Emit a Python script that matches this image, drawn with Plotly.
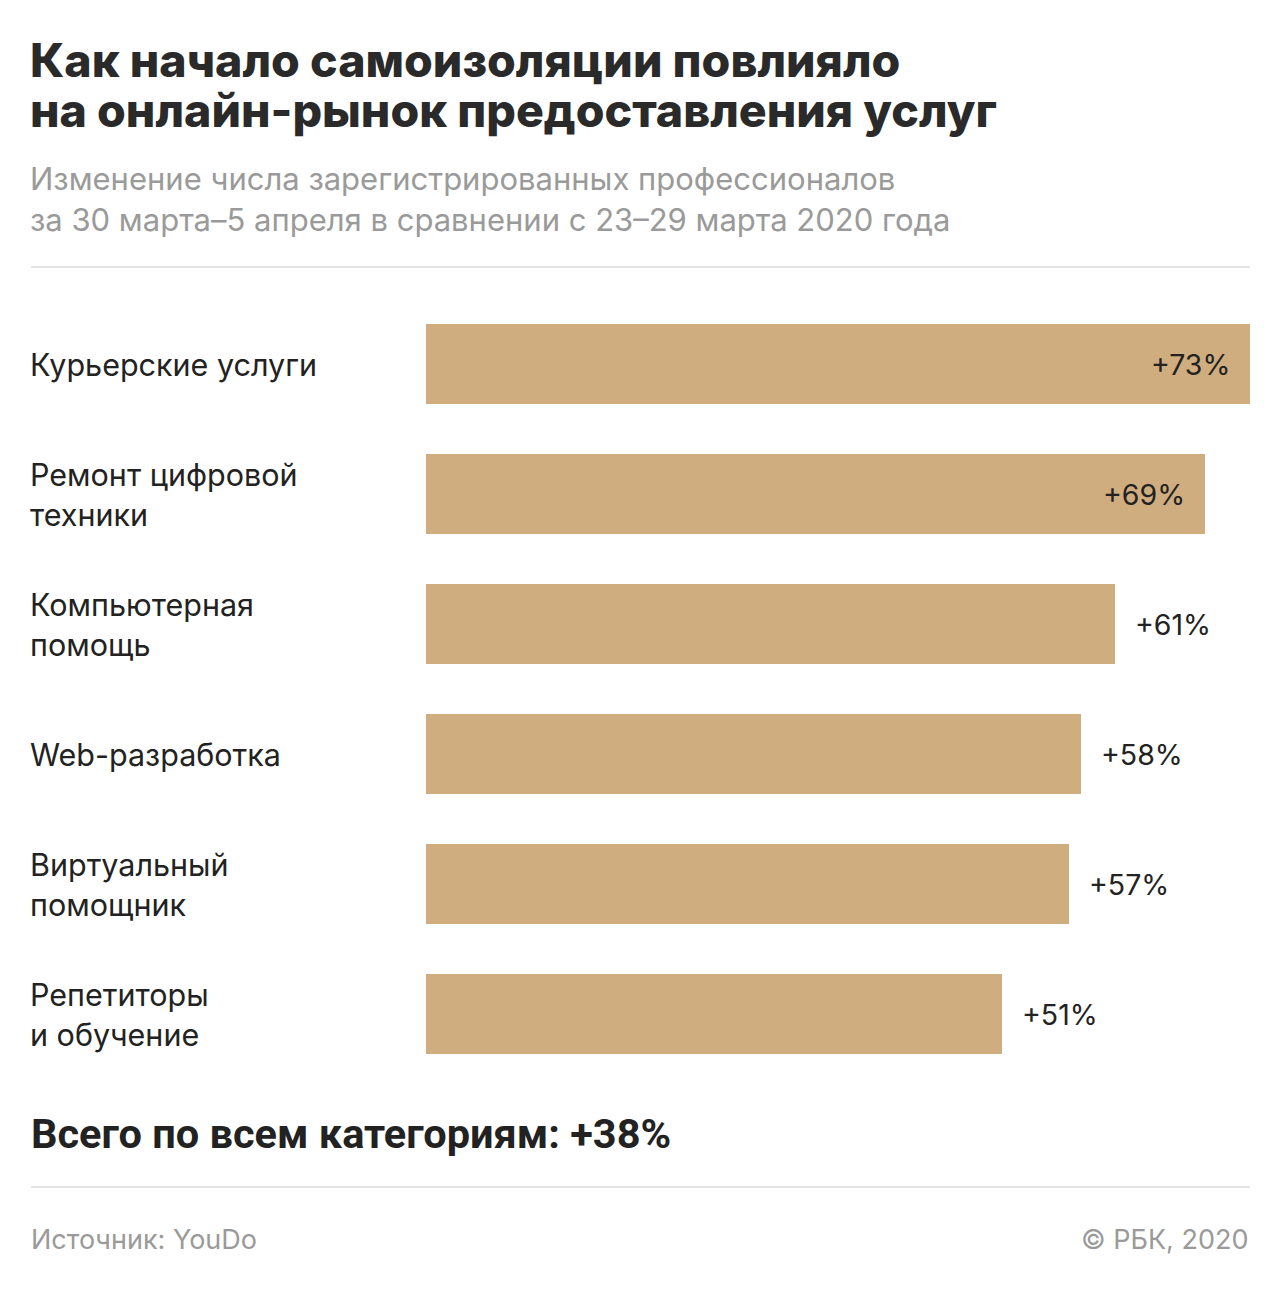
import plotly.graph_objects as go

categories = ["Курьерские услуги", "Ремонт цифровой<br>техники", "Компьютерная<br>помощь",
              "Web-разработка", "Виртуальный<br>помощник", "Репетиторы<br>и обучение"]
values = [73, 69, 61, 58, 57, 51]
value_labels = ["+73%", "+69%", "+61%", "+58%", "+57%", "+51%"]
inside = [True, True, False, False, False, False]

W, H = 1280, 1290
BAR = "#CFAD7F"
DARK = "#222222"
GRAY = "#9a9a9a"
FONT = "Inter"

def px(x):
    return x / W

def py(y):
    return 1 - y / H

ys = list(range(len(categories)))

fig = go.Figure(go.Bar(
    x=values, y=ys, orientation="h", marker=dict(color=BAR, line=dict(width=0)),
    width=80 / 130, hoverinfo="skip",
))

ann = []
for i, (c, v, lab, ins) in enumerate(zip(categories, values, value_labels, inside)):
    lines = c.split("<br>")
    n = len(lines)
    for k, line in enumerate(lines):
        ann.append(dict(x=px(28), xref="paper", y=i, yref="y", xanchor="left", yanchor="middle",
                        text=line, showarrow=False, font=dict(family=FONT, size=30.5, color=DARK),
                        yshift=(-(k - (n - 1) / 2) * 40)))
    ann.append(dict(x=v, xref="x", y=i, yref="y", xanchor="right" if ins else "left",
                    yanchor="middle", text=lab, showarrow=False,
                    xshift=-18 if ins else 18,
                    font=dict(family=FONT, size=28.5, color=DARK)))

TITLE_FONT = dict(family="Inter", size=46.5, color="#2a2a2a", weight=800)
SUB_FONT = dict(family="Inter", size=31, color=GRAY)
ann += [
    dict(x=px(28), y=py(60), xref="paper", yref="paper", xanchor="left", yanchor="middle",
         text="Как начало самоизоляции повлияло", showarrow=False, font=TITLE_FONT),
    dict(x=px(28), y=py(110), xref="paper", yref="paper", xanchor="left", yanchor="middle",
         text="на онлайн-рынок предоставления услуг", showarrow=False, font=TITLE_FONT),
    dict(x=px(28), y=py(179), xref="paper", yref="paper", xanchor="left", yanchor="middle",
         text="Изменение числа зарегистрированных профессионалов", showarrow=False, font=SUB_FONT),
    dict(x=px(28), y=py(219), xref="paper", yref="paper", xanchor="left", yanchor="middle",
         text="за 30 марта–5 апреля в сравнении с 23–29 марта 2020 года", showarrow=False, font=SUB_FONT),
    dict(x=px(29), y=py(1133), xref="paper", yref="paper", xanchor="left", yanchor="middle",
         text="<b>Всего по всем категориям: +38%</b>", showarrow=False,
         font=dict(family="Roboto", size=41.5, color=DARK)),
    dict(x=px(29), y=py(1239), xref="paper", yref="paper", xanchor="left", yanchor="middle",
         text="Источник: YouDo", showarrow=False,
         font=dict(family="Inter", size=27, color=GRAY)),
    dict(x=px(1250), y=py(1239), xref="paper", yref="paper", xanchor="right", yanchor="middle",
         text="© РБК, 2020", showarrow=False,
         font=dict(family="Inter", size=27, color=GRAY)),
]

shapes = [
    dict(type="line", xref="paper", yref="paper", x0=px(31), x1=px(1250), y0=py(267), y1=py(267),
         line=dict(color="#e3e3e3", width=2)),
    dict(type="line", xref="paper", yref="paper", x0=px(31), x1=px(1250), y0=py(1187), y1=py(1187),
         line=dict(color="#e3e3e3", width=2)),
]

fig.update_layout(
    width=W, height=H, margin=dict(l=0, r=0, t=0, b=0),
    paper_bgcolor="white", plot_bgcolor="white", showlegend=False,
    xaxis=dict(domain=[px(426), px(1250)], range=[0, 73], visible=False, fixedrange=True),
    yaxis=dict(domain=[py(1079), py(299)], range=[5.5, -0.5], visible=False, fixedrange=True),
    annotations=ann, shapes=shapes, bargap=0,
)

fig.write_html("out.html", config={"displayModeBar": False},
               post_script="document.body.style.margin='0';document.body.style.overflow='hidden';")
